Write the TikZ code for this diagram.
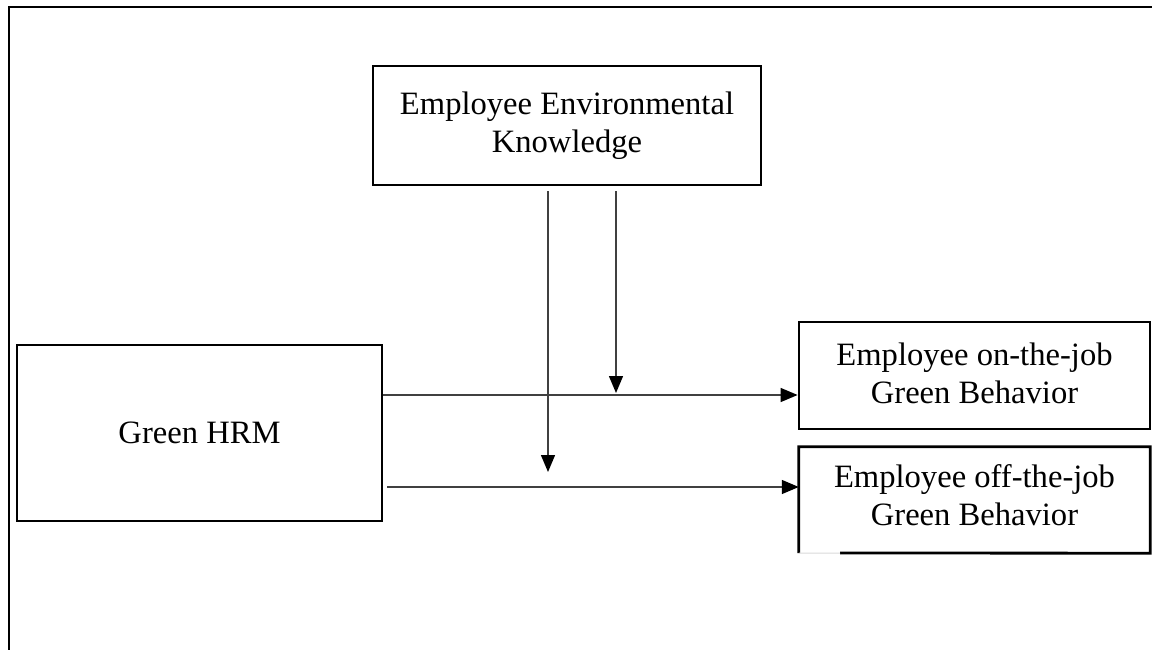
\documentclass[tikz,border=0pt]{standalone}
\usepackage{fontspec}
\setmainfont{Liberation Serif}
\usetikzlibrary{arrows.meta}
\begin{document}
\begin{tikzpicture}[x=1pt,y=-1pt,
  box/.style={draw=black,line width=2.8pt,align=center,inner sep=0pt,
    font=\fontsize{32.6}{38}\selectfont},
  label/.style={align=center,inner sep=0pt,font=\fontsize{32.6}{38}\selectfont},
  link/.style={draw=black!75,line width=1.4pt,
    -{Triangle[length=17pt,width=14pt,fill=black,color=black]}}]
\useasboundingbox (0,0) rectangle (1152,650);
% outer frame (top and left edges)
\draw[line width=2.4pt] (1152,7) -- (9,7) -- (9,650);
% boxes
\node[box,minimum width=388pt,minimum height=119pt] (knowledge) at (567,125.5)
  {Employee Environmental\\Knowledge};
\node[box,minimum width=365pt,minimum height=176pt] (hrm) at (199.5,433)
  {Green HRM};
\node[box,minimum width=351pt,minimum height=107pt] (onjob) at (974.5,375.5) {};
\node[label] (ontext) at (974.5,373) {Employee on-the-job\\Green Behavior};
\node[minimum width=351pt,minimum height=106pt,inner sep=0pt] (offjob) at (974.5,500) {};
\node[label] (offtext) at (974.5,495) {Employee off-the-job\\Green Behavior};
% border of the lower box, with a faint stretch at its bottom left
\draw[line width=2.8pt] (840,553) -- (offjob.south east) -- (offjob.north east)
  -- (offjob.north west) -- (offjob.south west);
\draw[black!15,line width=1pt] (offjob.south west) -- (840,553);
% moderating arrows
\coordinate (m1) at (616,393);
\coordinate (m2) at (548,472);
\draw[link] (knowledge.south -| m1) ++(0,5) -- (m1);
\draw[link] (knowledge.south -| m2) ++(0,5) -- (m2);
% direct paths
\draw[link] (hrm.east |- 0,395) -- (onjob.west |- 0,395);
\draw[link] ([xshift=4pt]hrm.east |- 0,487) -- (offjob.west |- 0,487);
\end{tikzpicture}
\end{document}
